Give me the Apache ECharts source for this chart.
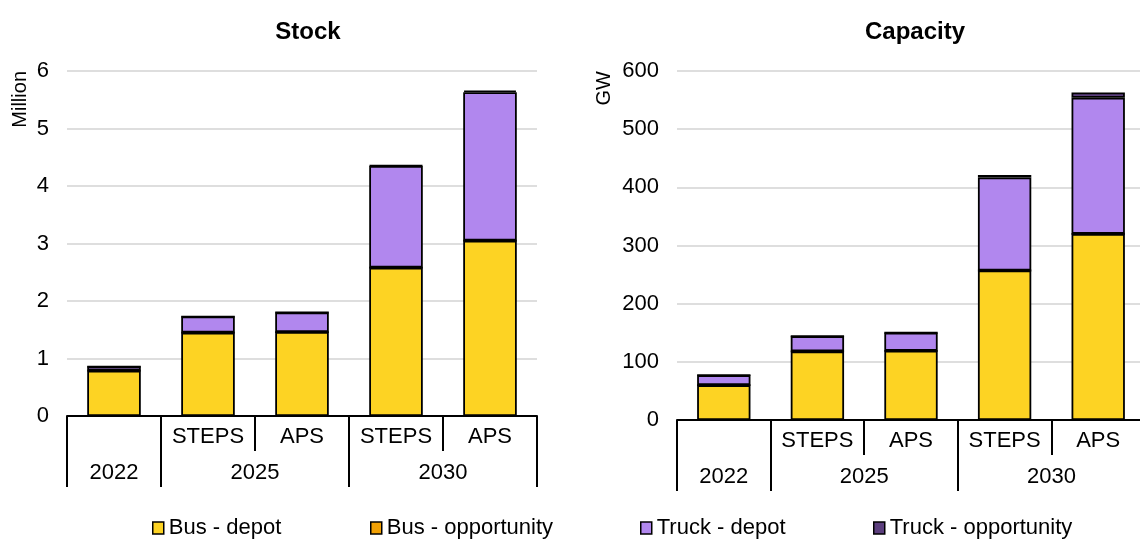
<!DOCTYPE html>
<html>
<head>
<meta charset="utf-8">
<script src="https://cdn.jsdelivr.net/npm/echarts@6/dist/echarts.min.js"></script>
<style>
html,body{margin:0;padding:0;background:#fff;}
#chart{width:1140px;height:539px;}
</style>
</head>
<body>
<div id="chart"></div>
<script>
// ---- data ----
const categories = ['', 'STEPS', 'APS', 'STEPS', 'APS'];
const yearGroups = ['2022', '2025', '2030'];
const groupSpans = [1, 2, 2];
const seriesNames = ['Bus - depot', 'Bus - opportunity', 'Truck - depot', 'Truck - opportunity'];
const chartTitles = ['Stock', 'Capacity'];
const unitNames = ['Million', 'GW'];

const stockBusDepot = [0.79, 1.45, 1.46, 2.58, 3.05];
const stockBusOpp = [0, 0, 0, 0, 0];
const stockTruckDepot = [0.07, 0.28, 0.34, 1.77, 2.58];
const stockTruckOpp = [0, 0, 0, 0.01, 0.03];

const capBusDepot = [60, 118, 119, 257, 320];
const capBusOpp = [0, 0, 0, 0, 0];
const capTruckDepot = [17, 26, 31, 160, 234];
const capTruckOpp = [0, 0, 0, 4, 9];

const stockTicks = [0, 1, 2, 3, 4, 5, 6];
const capTicks = [0, 100, 200, 300, 400, 500, 600];

// ---- derived ----
const colors = ['#FDD323', '#F2A104', '#B187EE', '#5C3F7E'];
const FONT = 'Liberation Sans, Arial, sans-serif';
const boundaries = [0];
groupSpans.forEach(s => boundaries.push(boundaries[boundaries.length - 1] + s));
const groupCenters = groupSpans.map((s, i) => boundaries[i] + s / 2);

const grids = [
  {left: 67, top: 71, width: 470, height: 345, outerBoundsMode: 'none', containLabel: false},
  {left: 677, top: 71, width: 468, height: 349, outerBoundsMode: 'none', containLabel: false}
];
const titleCenters = [303, 910];

const xAxes = [], yAxes = [], series = [];
const dataSets = [
  [stockBusDepot, stockBusOpp, stockTruckDepot, stockTruckOpp],
  [capBusDepot, capBusOpp, capTruckDepot, capTruckOpp]
];
const tickSets = [stockTicks, capTicks];
const namePad = [37, 63];

for (let g = 0; g < 2; g++) {
  xAxes.push({
    type: 'category', gridIndex: g, data: categories, position: 'bottom',
    axisLine: {show: true, lineStyle: {color: '#000', width: 2}},
    axisTick: {show: true, interval: 0, length: 35, lineStyle: {color: '#000', width: 2}},
    axisLabel: {interval: 0, margin: 10, fontSize: 22, color: '#000', fontFamily: FONT},
    splitLine: {show: false}
  });
  xAxes.push({
    type: 'value', gridIndex: g, position: 'bottom', min: 0, max: categories.length,
    axisLine: {show: false},
    axisTick: {show: true, customValues: boundaries, length: 71, lineStyle: {color: '#000', width: 2}},
    axisLabel: {customValues: groupCenters, margin: 46, fontSize: 22, color: '#000', fontFamily: FONT,
      formatter: v => { const i = groupCenters.indexOf(v); return i >= 0 ? yearGroups[i] : ''; }},
    splitLine: {show: false}
  });
  const t = tickSets[g];
  yAxes.push({
    type: 'value', gridIndex: g, min: t[0], max: t[t.length - 1], interval: t[1] - t[0],
    name: unitNames[g], nameLocation: 'end', nameRotate: 90, nameGap: 0,
    nameTextStyle: {fontSize: 20, color: '#000', fontFamily: FONT, align: 'right', verticalAlign: 'bottom', padding: [0, 0, namePad[g], 0]},
    axisLine: {show: false}, axisTick: {show: false},
    axisLabel: {fontSize: 22, color: '#000', margin: 18, fontFamily: FONT},
    splitLine: {show: true, lineStyle: {color: '#DEDEDE', width: 2}}
  });
  dataSets[g].forEach((d, i) => {
    series.push({
      name: seriesNames[i], type: 'bar', stack: 'st' + g,
      xAxisIndex: g * 2, yAxisIndex: g, data: d,
      barWidth: '57%',
      itemStyle: {color: colors[i], borderColor: '#000', borderWidth: 1.8},
      emphasis: {disabled: true}
    });
  });
}

const legendLefts = [152, 370, 640, 873];
const legends = seriesNames.map((n, i) => ({
  data: [n], left: legendLefts[i], top: 517, padding: 0, icon: 'rect', itemWidth: 11, itemHeight: 12, itemGap: 0,
  textStyle: {fontSize: 22, color: '#000', fontFamily: FONT},
  itemStyle: {borderColor: '#000', borderWidth: 1.5}, selectedMode: false
}));

const option = {
  animation: false,
  textStyle: {fontFamily: FONT},
  title: chartTitles.map((t, i) => ({
    text: t, left: titleCenters[i], top: 15, textAlign: 'center',
    textStyle: {fontSize: 24, fontWeight: 'bold', color: '#000', fontFamily: FONT}
  })),
  legend: legends,
  grid: grids,
  xAxis: xAxes,
  yAxis: yAxes,
  series: series
};
const chart = echarts.init(document.getElementById('chart'), null, {renderer: 'canvas'});
chart.setOption(option);
</script>
</body>
</html>
